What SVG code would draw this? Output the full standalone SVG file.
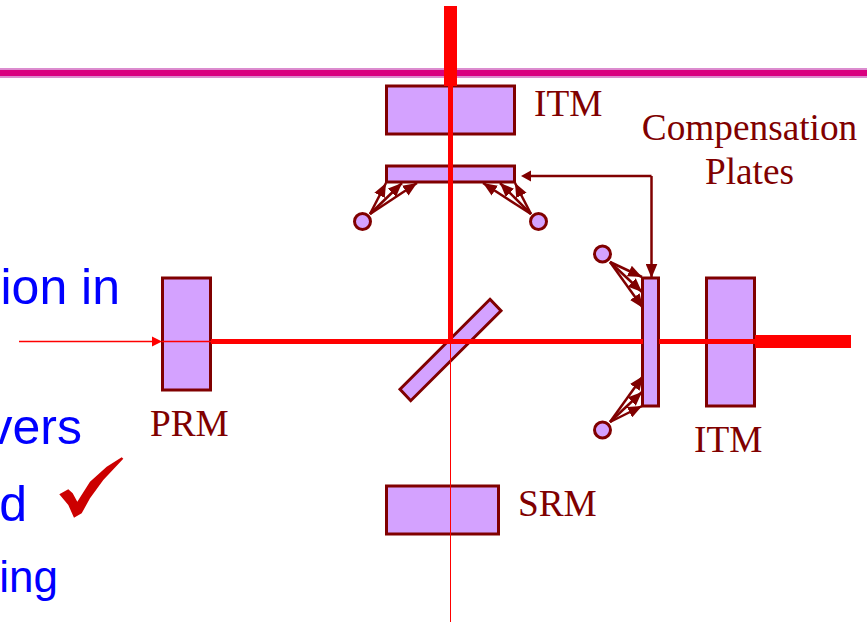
<svg xmlns="http://www.w3.org/2000/svg" width="867" height="622" viewBox="0 0 867 622">
<style>
.m{fill:#d4a2ff;stroke:#800000;stroke-width:3}
.c{stroke:#800000;stroke-width:2.5;fill:none}
.h{stroke:#800000;stroke-width:2.5;fill:none;marker-end:url(#ah)}
.b{fill:#ff0000}
.l{font-family:"Liberation Serif",serif;font-size:37.3px;fill:#800000}
.t{font-family:"Liberation Sans",sans-serif;font-size:50px;fill:#0000ff}
</style>
<defs>
<marker id="ah" markerUnits="userSpaceOnUse" markerWidth="14" markerHeight="12" refX="12" refY="5" orient="auto" viewBox="0 0 12 10"><path d="M0 0L12 5L0 10Z" fill="#800000"/></marker>
</defs>
<rect width="867" height="622" fill="#ffffff"/>
<rect id="rule" x="0" y="68" width="867" height="10" fill="#dc8ccf"/>
<rect x="0" y="70" width="867" height="6" fill="#d9007f"/>
<g id="text-left">
<text class="t" x="120" y="304" text-anchor="end">ion in</text>
<text class="t" x="82" y="444" text-anchor="end">vers</text>
<text class="t" x="27" y="521" text-anchor="end">d</text>
<text class="t" x="58" y="592" text-anchor="end" style="font-size:44px">ing</text>
</g>
<path id="check" d="M59.3 494.3L68.3 489.3L72.7 493.3L77.3 501.7L90 481.7L106.7 466.7L121.7 457.3L123.3 458.7L103.3 480L90 498.3L81.7 513.3L74 517.7L68.3 505Z" fill="#cc0000"/>
<g id="itm-top"><rect class="m" x="386.5" y="86" width="128" height="48"/><text class="l" x="534" y="116">ITM</text></g>
<g id="comp-top"><rect class="m" x="386.5" y="166" width="128" height="16"/></g>
<g id="itm-right"><rect class="m" x="706.5" y="278" width="48" height="128"/><text class="l" x="694" y="452">ITM</text></g>
<g id="comp-right"><rect class="m" x="642.5" y="278" width="16" height="128"/></g>
<g id="prm"><rect class="m" x="162.5" y="278" width="48" height="112"/><text class="l" x="150" y="436">PRM</text></g>
<g id="srm"><rect class="m" x="386.5" y="486" width="112" height="48"/><text class="l" x="518" y="516">SRM</text></g>
<g id="bs"><path class="m" stroke-width="2.5" d="M490 299.3L501 310.7L410.7 400.7L400 389.3Z"/></g>
<g id="heater-1"><circle class="m" cx="362.5" cy="221.5" r="8"/></g>
<g id="heater-2"><circle class="m" cx="538.5" cy="221.5" r="8"/></g>
<g id="heater-3"><circle class="m" cx="602.5" cy="254" r="8"/></g>
<g id="heater-4"><circle class="m" cx="602.5" cy="430" r="8"/></g>
<g id="label-cp">
<text class="l" x="749.5" y="140" text-anchor="middle">Compensation</text>
<text class="l" x="749.5" y="184" text-anchor="middle">Plates</text>
</g>
<g id="connectors">
<rect class="b" x="444" y="6" width="13" height="80"/>
<rect class="b" x="448" y="86" width="5" height="256"/>
<rect class="b" x="450" y="342" width="1" height="280"/>
<rect class="b" x="211" y="339" width="432" height="5"/>
<rect class="b" x="659" y="339" width="96" height="5"/>
<rect class="b" x="755" y="335" width="96" height="13"/>
<path d="M19 341.5H153" stroke="#ff0000" stroke-width="1.5"/>
<path d="M152 336.5L162 341.5L152 346.5Z" fill="#ff0000"/>
<path d="M162 341.5H211" stroke="#ff0000" stroke-width="1.5"/>
<path d="M707 341.5H755" stroke="#ff0000" stroke-width="5"/>
<path class="c" d="M651.5 176H528"/>
<path d="M531 170.5L521 176L531 181.5Z" fill="#800000"/>
<path class="h" d="M651.5 176V278"/>
<path class="h" d="M370 214L386 183"/>
<path class="h" d="M370 214L402 183"/>
<path class="h" d="M370 214L417 183"/>
<path class="h" d="M531 214L483 183"/>
<path class="h" d="M531 214L500 183"/>
<path class="h" d="M531 214L515 183"/>
<path class="h" d="M610 262L642 277"/>
<path class="h" d="M610 262L642 292"/>
<path class="h" d="M610 262L643 308"/>
<path class="h" d="M610 422L643 376"/>
<path class="h" d="M610 422L642 392"/>
<path class="h" d="M610 422L642 406"/>
</g>
</svg>
